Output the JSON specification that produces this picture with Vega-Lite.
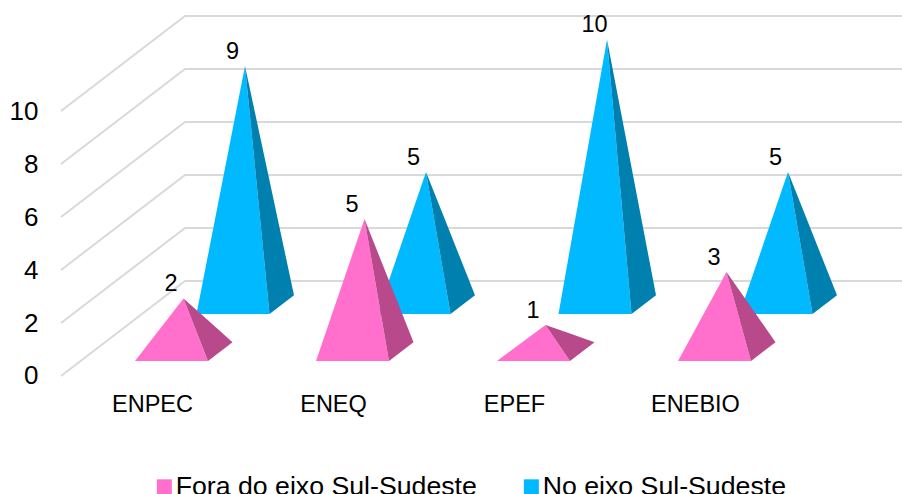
{
"$schema":"https://vega.github.io/schema/vega-lite/v6.json",
"width":842,"height":494,
"autosize":{"type":"none"},
"padding":{"left":60,"top":0,"right":0,"bottom":0},
"background":"white",
"config":{"view":{"stroke":null},"font":"Liberation Sans"},
"datasets":{
 "pyramids":[
  {"category":"ENPEC","series":"No eixo Sul-Sudeste","value":9},
  {"category":"ENEQ","series":"No eixo Sul-Sudeste","value":5},
  {"category":"EPEF","series":"No eixo Sul-Sudeste","value":10},
  {"category":"ENEBIO","series":"No eixo Sul-Sudeste","value":5},
  {"category":"ENPEC","series":"Fora do eixo Sul-Sudeste","value":2},
  {"category":"ENEQ","series":"Fora do eixo Sul-Sudeste","value":5},
  {"category":"EPEF","series":"Fora do eixo Sul-Sudeste","value":1},
  {"category":"ENEBIO","series":"Fora do eixo Sul-Sudeste","value":3}
 ],
 "grid":[{"level":0},{"level":2},{"level":4},{"level":6},{"level":8},{"level":10}]
},
"data":{"name":"pyramids"},
"transform":[
 {"calculate":"indexof(['ENPEC','ENEQ','EPEF','ENEBIO'],datum.category)","as":"i"},
 {"calculate":"datum.series=='No eixo Sul-Sudeste'?1:0","as":"b"},
 {"calculate":"135+181*datum.i+61.5*datum.b","as":"x0"},
 {"calculate":"datum.x0+73","as":"x1"},
 {"calculate":"datum.x0+48.5","as":"ax"},
 {"calculate":"datum.b==1?2.34:0.566","as":"yf"},
 {"calculate":"datum.yf+0.358+datum.value","as":"ay"},
 {"calculate":"datum.yf+0.71","as":"yb"},
 {"calculate":"datum.x0+17.5","as":"catx"}
],
"layer":[
 {
  "data":{"name":"grid"},
  "transform":[
   {"calculate":"[{x:61,y:datum.level},{x:185,y:datum.level+3.585},{x:902,y:datum.level+3.585}]","as":"v"},
   {"flatten":["v"]},
   {"calculate":"datum.v.x","as":"gx"},
   {"calculate":"datum.v.y","as":"gy"}
  ],
  "mark":{"type":"line","color":"#D9D9D9","strokeWidth":2,"clip":false},
  "encoding":{
   "x":{"field":"gx","type":"quantitative","scale":{"domain":[60,902]},"axis":null},
   "y":{"field":"gy","type":"quantitative","scale":{"domain":[-4.453,14.189],"nice":false,"zero":false},
    "axis":{"title":null,"values":[0,2,4,6,8,10],"domain":false,"ticks":false,"grid":false,"labelFontSize":26,"labelColor":"#000000","labelPadding":22,"labelFont":"Liberation Sans","labelOffset":0}},
   "detail":{"field":"level","type":"nominal"}
  }
 },
 {
  "transform":[
   {"calculate":"datum.ay+(datum.x1-datum.ax)/(datum.x1+24.5-datum.ax)*(datum.yb-datum.ay)","as":"ym"},
   {"calculate":"[{f:'front',x:datum.x0,y:datum.yf,y2:datum.yf},{f:'front',x:datum.ax,y:datum.ay,y2:datum.yf},{f:'front',x:datum.x1,y:datum.yf,y2:datum.yf},{f:'side',x:datum.ax,y:datum.ay,y2:datum.ay},{f:'side',x:datum.x1,y:datum.ym,y2:datum.yf},{f:'side',x:datum.x1+24.5,y:datum.yb,y2:datum.yb}]","as":"v"},
   {"flatten":["v"]},
   {"calculate":"datum.v.x","as":"px"},
   {"calculate":"datum.v.y","as":"py"},
   {"calculate":"datum.v.y2","as":"py2"},
   {"calculate":"datum.v.f=='side'?datum.series+' (lateral)':datum.series","as":"paint"},
   {"calculate":"datum.category+datum.series+datum.v.f","as":"face"}
  ],
  "mark":{"type":"area","line":false,"clip":false},
  "encoding":{
   "x":{"field":"px","type":"quantitative","scale":{"domain":[60,902]},"axis":null},
   "y":{"field":"py","type":"quantitative","scale":{"domain":[-4.453,14.189],"nice":false,"zero":false}},
   "y2":{"field":"py2"},
   "detail":{"field":"face","type":"nominal"},
   "color":{"field":"paint","type":"nominal",
    "scale":{"domain":["Fora do eixo Sul-Sudeste","No eixo Sul-Sudeste","Fora do eixo Sul-Sudeste (lateral)","No eixo Sul-Sudeste (lateral)"],"range":["#FF6FCB","#00B9FF","#B84A8C","#0080AE"]},
    "legend":{"values":["Fora do eixo Sul-Sudeste","No eixo Sul-Sudeste"],"title":null,"orient":"none","legendX":91,"legendY":473,"direction":"horizontal","columns":2,"columnPadding":41,"symbolType":"square","symbolSize":225,"symbolStrokeWidth":0,"labelFontSize":26.7,"labelColor":"#000000","labelFont":"Liberation Sans","labelOffset":-2,"labelLimit":400,"padding":0}}
  }
 },
 {
  "mark":{"type":"text","fontSize":23.5,"color":"#000000","font":"Liberation Sans","dy":-14.5,"dx":-12.5,"align":"center","baseline":"middle"},
  "encoding":{
   "x":{"field":"ax","type":"quantitative","scale":{"domain":[60,902]},"axis":null},
   "y":{"field":"ay","type":"quantitative","scale":{"domain":[-4.453,14.189],"nice":false,"zero":false}},
   "text":{"field":"value","type":"quantitative"}
  }
 },
 {
  "transform":[{"filter":"datum.b==0"}],
  "mark":{"type":"text","fontSize":23.5,"color":"#000000","font":"Liberation Sans","align":"center","baseline":"middle"},
  "encoding":{
   "x":{"field":"catx","type":"quantitative","scale":{"domain":[60,902]},"axis":null},
   "y":{"datum":-1.09,"type":"quantitative","scale":{"domain":[-4.453,14.189],"nice":false,"zero":false}},
   "text":{"field":"category","type":"nominal"}
  }
 }
]
}
